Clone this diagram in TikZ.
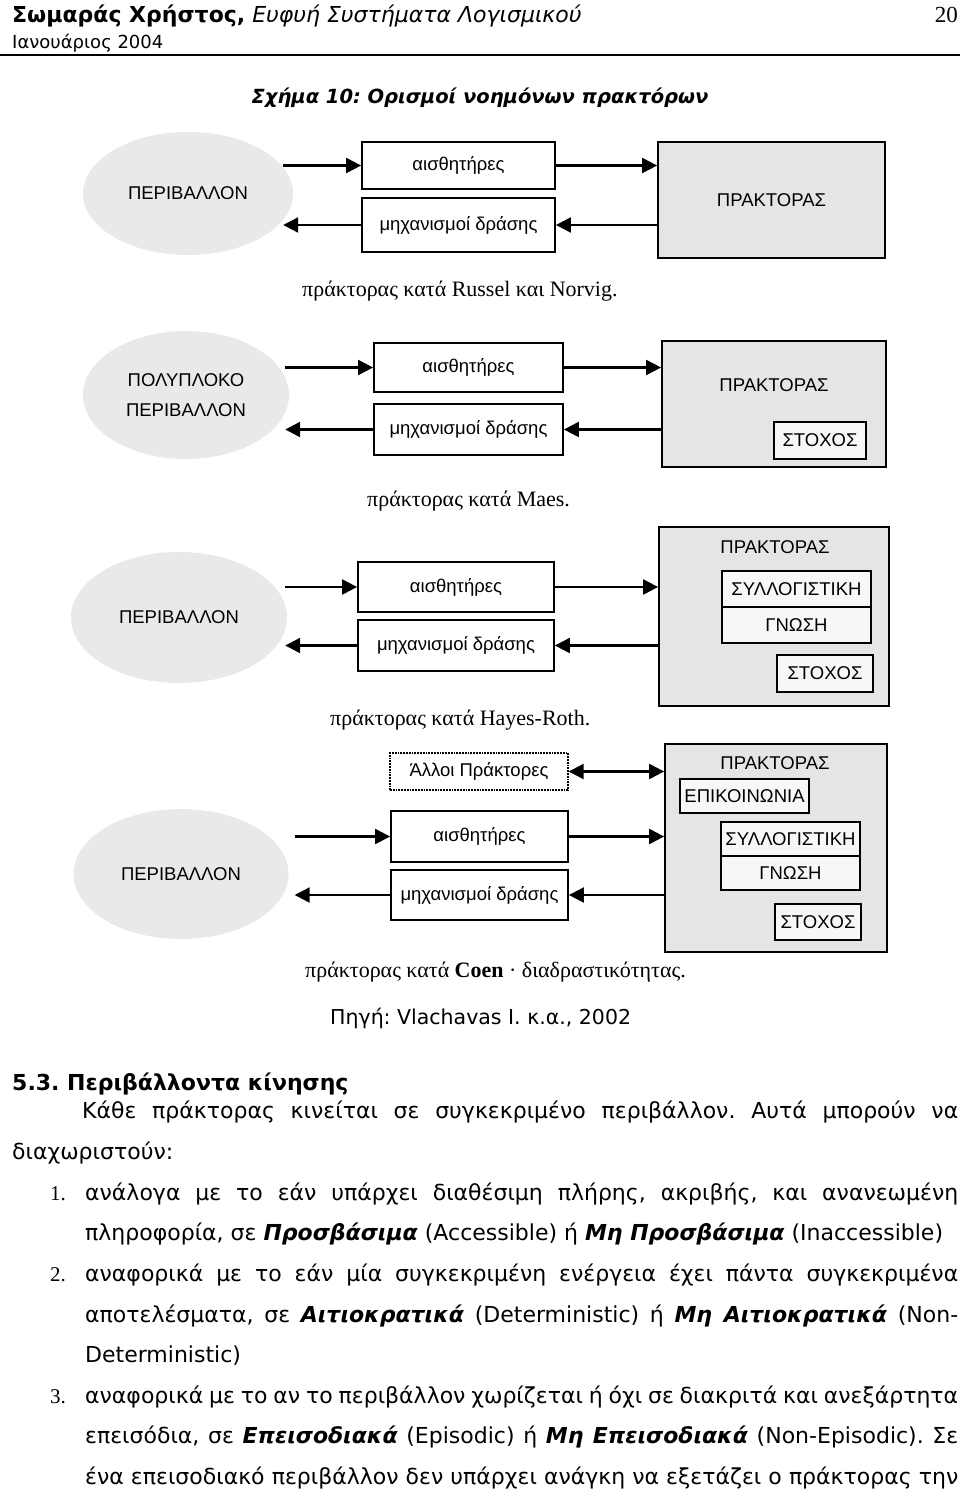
\documentclass[tikz,border=0pt]{standalone}
\usepackage{fontspec}
\setmainfont{DejaVu Sans}
\newfontfamily\figfont{Liberation Sans}
\newfontfamily\capfont{Liberation Serif}
\usetikzlibrary{arrows.meta,calc,positioning,shapes.geometric}
\newcommand\keyterm[1]{\textbf{\textit{#1}}}
\frenchspacing

\tikzset{
  envblob/.style={ellipse, fill=gray!17, inner sep=0pt, align=center,
    font=\figfont\fontsize{18.5}{30}\selectfont},
  unitbox/.style={draw, line width=1.8pt, fill=white, inner sep=0pt,
    font=\figfont\fontsize{18.5}{22}\selectfont},
  agentbox/.style={unitbox, fill=gray!20},
  partbox/.style={unitbox, fill=gray!6, outer sep=0pt},
  agenttitle/.style={inner sep=0pt, font=\figfont\fontsize{18.5}{22}\selectfont},
  flow/.style={line width=2.2pt, -{Triangle[length=15pt,width=15pt]}},
  twoway/.style={line width=2.2pt, {Triangle[length=15pt,width=15pt]}-{Triangle[length=15pt,width=15pt]}},
  capline/.style={anchor=base west, inner sep=0pt, font=\capfont\fontsize{22}{26}\selectfont},
  txtline/.style={anchor=base west, inner sep=0pt, font=\fontsize{22}{26}\selectfont},
  itemno/.style={anchor=base west, inner sep=0pt, font=\capfont\fontsize{21}{25}\selectfont},
}

\begin{document}
\begin{tikzpicture}[x=1pt,y=-1pt]
  \useasboundingbox[fill=white] (0,0) rectangle (960,1489);

  %%%%% HEADER %%%%%
  \node[anchor=base west, inner sep=0pt, font=\fontsize{22}{26}\selectfont] (author) at (12,22)
    {\textbf{Σωμαράς Χρήστος,} \textit{Ευφυή Συστήματα Λογισμικού}};
  \node[anchor=base east, inner sep=0pt, font=\capfont\fontsize{23}{26}\selectfont] (pageno) at (958,22) {20};
  \node[anchor=base west, inner sep=0pt, font=\fontsize{18}{22}\selectfont] (date) at (12,48) {Ιανουάριος 2004};
  \draw[line width=2pt] (0,55) -- (960,55);
  \node[anchor=base, inner sep=0pt, font=\fontsize{19.5}{24}\selectfont] (figtitle) at (480,103)
    {\textbf{\textit{Σχήμα 10: Ορισμοί νοημόνων πρακτόρων}}};

  %%%%% Russel - Norvig %%%%%
  \node[envblob, minimum width=210, minimum height=123] (env1) at (188,193.5) {ΠΕΡΙΒΑΛΛΟΝ};
  \node[unitbox, minimum width=193, minimum height=47] (sens1) at (458.5,165.5) {αισθητήρες};
  \node[unitbox, minimum width=193, minimum height=54] (act1) at (458.5,225) {μηχανισμοί δράσης};
  \node[agentbox, minimum width=227, minimum height=116] (ag1) at (771.5,200) {ΠΡΑΚΤΟΡΑΣ};
  \coordinate (env1p) at ($(env1.east)+(-10,0)$);
  \draw[flow] (env1p |- sens1.west) -- (sens1.west);
  \draw[flow] (sens1.east) -- (sens1.east -| ag1.west);
  \draw[flow] (ag1.west |- act1.east) -- (act1.east);
  \draw[flow] (act1.west) -- (act1.west -| env1p);
  \node[capline] (cap1) at (302,296) {πράκτορας κατά Russel και Norvig.};

  %%%%% Maes %%%%%
  \node[envblob, minimum width=206, minimum height=128] (env2) at (186,395) {ΠΟΛΥΠΛΟΚΟ\\ΠΕΡΙΒΑΛΛΟΝ};
  \node[unitbox, minimum width=189, minimum height=49] (sens2) at (468.5,367.5) {αισθητήρες};
  \node[unitbox, minimum width=189, minimum height=51] (act2) at (468.5,429.5) {μηχανισμοί δράσης};
  \node[agentbox, minimum width=224, minimum height=126] (ag2) at (774,404) {};
  \node[agenttitle] (title2) at (774,385) {ΠΡΑΚΤΟΡΑΣ};
  \node[partbox, minimum width=92, minimum height=37] (goal2) at (820,440.5) {ΣΤΟΧΟΣ};
  \coordinate (env2p) at ($(env2.east)+(-4,0)$);
  \draw[flow] (env2p |- sens2.west) -- (sens2.west);
  \draw[flow] (sens2.east) -- (sens2.east -| ag2.west);
  \draw[flow] (ag2.west |- act2.east) -- (act2.east);
  \draw[flow] (act2.west) -- (act2.west -| env2p);
  \node[capline] (cap2) at (367,506) {πράκτορας κατά Maes.};

  %%%%% Hayes-Roth %%%%%
  \node[envblob, minimum width=216, minimum height=131] (env3) at (179,617.5) {ΠΕΡΙΒΑΛΛΟΝ};
  \node[unitbox, minimum width=196, minimum height=50] (sens3) at (456,587) {αισθητήρες};
  \node[unitbox, minimum width=196, minimum height=51] (act3) at (456,645.5) {μηχανισμοί δράσης};
  \node[agentbox, minimum width=230, minimum height=179] (ag3) at (774,616.5) {};
  \node[agenttitle] (title3) at (775,547) {ΠΡΑΚΤΟΡΑΣ};
  \node[partbox, minimum width=149, minimum height=36] (reas3) at (796.5,589) {ΣΥΛΛΟΓΙΣΤΙΚΗ};
  \node[partbox, minimum width=149, minimum height=36, below=0pt of reas3] (know3) {ΓΝΩΣΗ};
  \node[partbox, minimum width=96, minimum height=37] (goal3) at (825,673.5) {ΣΤΟΧΟΣ};
  \coordinate (env3p) at ($(env3.east)+(-2,0)$);
  \draw[flow] (env3p |- sens3.west) -- (sens3.west);
  \draw[flow] (sens3.east) -- (sens3.east -| ag3.west);
  \draw[flow] (ag3.west |- act3.east) -- (act3.east);
  \draw[flow] (act3.west) -- (act3.west -| env3p);
  \node[capline] (cap3) at (330,725) {πράκτορας κατά Hayes-Roth.};

  %%%%% Coen %%%%%
  \node[envblob, minimum width=215, minimum height=130] (env4) at (181,874) {ΠΕΡΙΒΑΛΛΟΝ};
  \node[unitbox, densely dotted, line width=1.4pt, minimum width=178, minimum height=37] (others) at (479,771.5) {Άλλοι Πράκτορες};
  \node[unitbox, minimum width=177, minimum height=51] (sens4) at (479.5,836.5) {αισθητήρες};
  \node[unitbox, minimum width=177, minimum height=50] (act4) at (479.5,895) {μηχανισμοί δράσης};
  \node[agentbox, minimum width=222, minimum height=208] (ag4) at (776,848) {};
  \node[agenttitle] (title4) at (775,763) {ΠΡΑΚΤΟΡΑΣ};
  \node[partbox, minimum width=129, minimum height=34] (comm4) at (744.5,796) {ΕΠΙΚΟΙΝΩΝΙΑ};
  \node[partbox, minimum width=139, minimum height=34] (reas4) at (790.5,839) {ΣΥΛΛΟΓΙΣΤΙΚΗ};
  \node[partbox, minimum width=139, minimum height=34, below=0pt of reas4] (know4) {ΓΝΩΣΗ};
  \node[partbox, minimum width=86, minimum height=36] (goal4) at (818,922) {ΣΤΟΧΟΣ};
  \coordinate (env4p) at ($(env4.east)+(6,0)$);
  \draw[twoway] (others.east) -- (others.east -| ag4.west);
  \draw[flow] (env4p |- sens4.west) -- (sens4.west);
  \draw[flow] (sens4.east) -- (sens4.east -| ag4.west);
  \draw[flow] (ag4.west |- act4.east) -- (act4.east);
  \draw[flow] (act4.west) -- (act4.west -| env4p);
  \node[capline] (cap4) at (305,977) {πράκτορας κατά \textbf{Coen} · διαδραστικότητας.};

  \node[anchor=base west, inner sep=0pt, font=\fontsize{20.5}{24}\selectfont] (source) at (330,1024) {Πηγή: Vlachavas I. κ.α., 2002};

  %%%%% TEXT %%%%%
  \node[txtline] (sect) at (12,1090) {\textbf{5.3. Περιβάλλοντα κίνησης}};
  \node[txtline] (l1) at (82,1118) {\makebox[876pt][s]{Κάθε πράκτορας κινείται σε συγκεκριμένο περιβάλλον. Αυτά μπορούν να}};
  \node[txtline] (l2) at (12,1159) {διαχωριστούν:};
  \node[itemno] (n1) at (50,1200) {1.};
  \node[txtline] (l3) at (85,1200) {\makebox[873pt][s]{ανάλογα με το εάν υπάρχει διαθέσιμη πλήρης, ακριβής, και ανανεωμένη}};
  \node[txtline] (l4) at (85,1240) {πληροφορία, σε \keyterm{Προσβάσιμα} (Accessible) ή \keyterm{Μη Προσβάσιμα} (Inaccessible)};
  \node[itemno] (n2) at (50,1281) {2.};
  \node[txtline] (l5) at (85,1281) {\makebox[873pt][s]{αναφορικά με το εάν μία συγκεκριμένη ενέργεια έχει πάντα συγκεκριμένα}};
  \node[txtline] (l6) at (85,1322) {\makebox[873pt][s]{αποτελέσματα, σε \keyterm{Αιτιοκρατικά} (Deterministic) ή \keyterm{Μη Αιτιοκρατικά} (Non-}};
  \node[txtline] (l7) at (85,1362) {Deterministic)};
  \node[itemno] (n3) at (50,1403) {3.};
  \node[txtline] (l8) at (85,1403) {\makebox[873pt][s]{αναφορικά με το αν το περιβάλλον χωρίζεται ή όχι σε διακριτά και ανεξάρτητα}};
  \node[txtline] (l9) at (85,1443) {\makebox[873pt][s]{επεισόδια, σε \keyterm{Επεισοδιακά} (Episodic) ή \keyterm{Μη Επεισοδιακά} (Non-Episodic). Σε}};
  \node[txtline] (l10) at (85,1484) {\makebox[873pt][s]{ένα επεισοδιακό περιβάλλον δεν υπάρχει ανάγκη να εξετάζει ο πράκτορας την}};
\end{tikzpicture}
\end{document}
